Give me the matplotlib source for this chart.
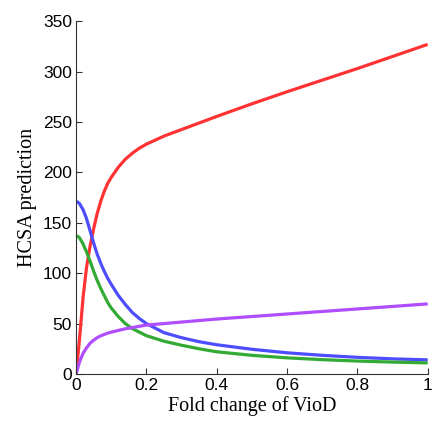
import matplotlib
matplotlib.use("Agg")
import matplotlib.pyplot as plt
from matplotlib.ticker import FuncFormatter

# fold change of VioD (x) and HCSA predictions
fold = [0, 0.005, 0.01, 0.02, 0.03, 0.04, 0.05, 0.06, 0.07, 0.08, 0.09,
        0.10, 0.12, 0.14, 0.16, 0.18, 0.2, 0.25, 0.3, 0.35, 0.4,
        0.5, 0.6, 0.7, 0.8, 0.9, 1.0]
red = [0, 17, 35, 76, 106, 127, 144, 159, 171, 181, 189,
       195, 205, 213, 219, 224, 228, 236, 242.5, 249, 255.5,
       268, 280, 291.5, 303, 315, 327]
blue = [171, 170.5, 169, 163, 154, 142, 130, 119, 110, 102, 95,
        89, 78, 69, 61, 55, 50, 41, 36, 32, 29,
        24.5, 21, 18.5, 16.5, 15, 14]
green = [137, 136.5, 135, 129, 121, 112, 102, 93, 85, 78, 71,
         65.5, 57, 50, 45, 41.5, 38, 32.5, 28.5, 25, 22,
         18.5, 16, 14.2, 12.8, 11.8, 11]
purple = [0, 6, 12, 20.5, 26, 30.5, 33.5, 36, 37.8, 39.2, 40.5,
          41.5, 43.2, 44.8, 46, 47.3, 48.5, 50, 51.5, 53, 54.5,
          57, 59.5, 62, 64.5, 67, 69.5]

xticks = [0, 0.2, 0.4, 0.6, 0.8, 1]
yticks = [0, 50, 100, 150, 200, 250, 300, 350]

fig = plt.figure(figsize=(4.32, 4.24), dpi=100)
ax = fig.add_axes([0.176, 0.118, 0.814, 0.832])

lw = 2.3
ax.plot(fold, red, color='#ff3333', lw=lw, solid_capstyle='butt')
ax.plot(fold, blue, color='#4d4dff', lw=lw, solid_capstyle='butt')
ax.plot(fold, green, color='#33aa33', lw=lw, solid_capstyle='butt')
ax.plot(fold, purple, color='#b04dff', lw=lw, solid_capstyle='butt')

ax.set_xlim(0, 1)
ax.set_ylim(0, 350)
ax.set_xticks(xticks)
ax.set_yticks(yticks)
ax.xaxis.set_major_formatter(FuncFormatter(lambda v, p: ('%g' % v)))

for s in ['top', 'right']:
    ax.spines[s].set_visible(False)
for s in ['left', 'bottom']:
    ax.spines[s].set_color('#333333')
    ax.spines[s].set_linewidth(0.8)

ax.tick_params(direction='in', length=4, width=0.8, color='#333333',
               labelsize=12.5, pad=3)
for lab in ax.get_xticklabels() + ax.get_yticklabels():
    lab.set_fontfamily('Liberation Sans')

ax.set_xlabel('Fold change of VioD', family='Liberation Serif', fontsize=14.5, labelpad=2)
ax.set_ylabel('HCSA prediction', family='Liberation Serif', fontsize=14.5, labelpad=4)

fig.savefig('out.png', dpi=100)
